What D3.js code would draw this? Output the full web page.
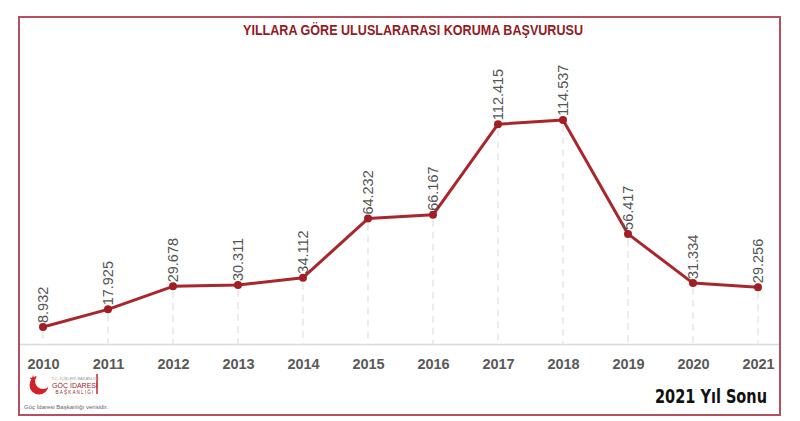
<!DOCTYPE html>
<html><head><meta charset="utf-8">
<script src="https://cdn.jsdelivr.net/npm/d3@7"></script>
<style>html,body{margin:0;padding:0;background:#fff;}svg{display:block;}</style>
</head><body>
<svg id="c" width="800" height="421"></svg>
<script>
const years = ["2010","2011","2012","2013","2014","2015","2016","2017","2018","2019","2020","2021"];
const values = [8.932,17.925,29.678,30.311,34.112,64.232,66.167,112.415,114.537,56.417,31.334,29.256];
const labels = ["8.932","17.925","29.678","30.311","34.112","64.232","66.167","112.415","114.537","56.417","31.334","29.256"];
const title = "YILLARA GÖRE ULUSLARARASI KORUMA BAŞVURUSU";
const note = "2021 Yıl Sonu";

const svg = d3.select("#c");
const W = 800, H = 421;
svg.append("rect").attr("width",W).attr("height",H).attr("fill","#fff");

// frame
svg.append("rect").attr("x",19).attr("y",17).attr("width",761).attr("height",398)
  .attr("fill","none").attr("stroke","#b5505e").attr("stroke-width",2);

const x = d3.scalePoint().domain(years).range([43,758]);
const y = d3.scaleLinear().domain([0,120]).range([344.5,109.3]);

// title
svg.append("text").attr("x",413).attr("y",35).attr("text-anchor","middle")
  .attr("font-family","'Liberation Sans Narrow','Arial Narrow','Liberation Sans',sans-serif")
  .attr("font-weight","bold").attr("font-size",15).attr("fill","#921c26")
  .attr("textLength",340).attr("lengthAdjust","spacingAndGlyphs").text(title);

// baseline
svg.append("line").attr("x1",20).attr("x2",779).attr("y1",y(0)).attr("y2",y(0))
  .attr("stroke","#d9d9d9").attr("stroke-width",1.5);

// drop lines
svg.append("g").selectAll("line").data(values).join("line")
  .attr("x1",(d,i)=>x(years[i])).attr("x2",(d,i)=>x(years[i]))
  .attr("y1",d=>y(d)+5).attr("y2",y(0))
  .attr("stroke","#e3e3e3").attr("stroke-width",1.3).attr("stroke-dasharray","7,5");

// line
const line = d3.line().x((d,i)=>x(years[i])).y(d=>y(d));
svg.append("path").datum(values).attr("d",line).attr("fill","none")
  .attr("stroke","#a8262c").attr("stroke-width",3).attr("stroke-linejoin","round");

svg.append("g").selectAll("circle").data(values).join("circle")
  .attr("cx",(d,i)=>x(years[i])).attr("cy",d=>y(d)).attr("r",4)
  .attr("fill","#a01e24");

// value labels
svg.append("g").selectAll("text").data(values).join("text")
  .attr("transform",(d,i)=>`translate(${x(years[i])},${y(d)-4}) rotate(-90)`)
  .attr("dy","0.36em").attr("text-anchor","start")
  .attr("font-family","'Liberation Sans',Arial,sans-serif").attr("font-size",14.5)
  .attr("fill","#555").text((d,i)=>labels[i]);

// x axis labels
const xAxis = d3.axisBottom(x).tickSize(0).tickPadding(0);
const gx = svg.append("g").attr("transform",`translate(0,${y(0)})`).call(xAxis);
gx.select(".domain").remove();
gx.selectAll("text").attr("y",24).attr("dy",0)
  .attr("font-family","'Liberation Sans',Arial,sans-serif").attr("font-weight","bold")
  .attr("font-size",14.5).attr("fill","#595959");

// note
svg.append("text").attr("x",767).attr("y",403).attr("text-anchor","end")
  .attr("font-family","'Liberation Sans Narrow','DejaVu Sans Condensed','Liberation Sans',sans-serif")
  .attr("font-weight","bold").attr("font-size",20).attr("fill","#111")
  .attr("textLength",112).attr("lengthAdjust","spacingAndGlyphs").text(note);

// logo
const lg = svg.append("g");
lg.append("circle").attr("cx",39).attr("cy",385).attr("r",9.5).attr("fill","#d4202a");
lg.append("circle").attr("cx",43).attr("cy",381).attr("r",8).attr("fill","#fff");
lg.append("path").attr("d", d3.symbol(d3.symbolStar, 18)()).attr("transform","translate(33,379)").attr("fill","#d4202a");
lg.append("line").attr("x1",97).attr("x2",97).attr("y1",374).attr("y2",394).attr("stroke","#c62828").attr("stroke-width",1.5);
lg.append("text").attr("x",75).attr("y",380).attr("text-anchor","middle").attr("font-family","'Liberation Sans',sans-serif").attr("font-size",4).attr("fill","#999").text("T.C. İÇİŞLERİ BAKANLIĞI");
lg.append("text").attr("x",75).attr("y",388).attr("text-anchor","middle").attr("font-family","'Liberation Sans Narrow','Liberation Sans',sans-serif").attr("font-size",7).attr("fill","#9a1c24").text("GÖÇ İDARESİ");
lg.append("text").attr("x",75).attr("y",394).attr("text-anchor","middle").attr("font-family","'Liberation Sans',sans-serif").attr("font-size",4.5).attr("letter-spacing",1.2).attr("fill","#9a1c24").text("BAŞKANLIĞI");
lg.append("text").attr("x",24).attr("y",409).attr("font-family","'Liberation Sans Narrow','Liberation Sans',sans-serif").attr("font-size",6).attr("fill","#666").text("Göç İdaresi Başkanlığı verisidir.");
</script>
</body></html>
